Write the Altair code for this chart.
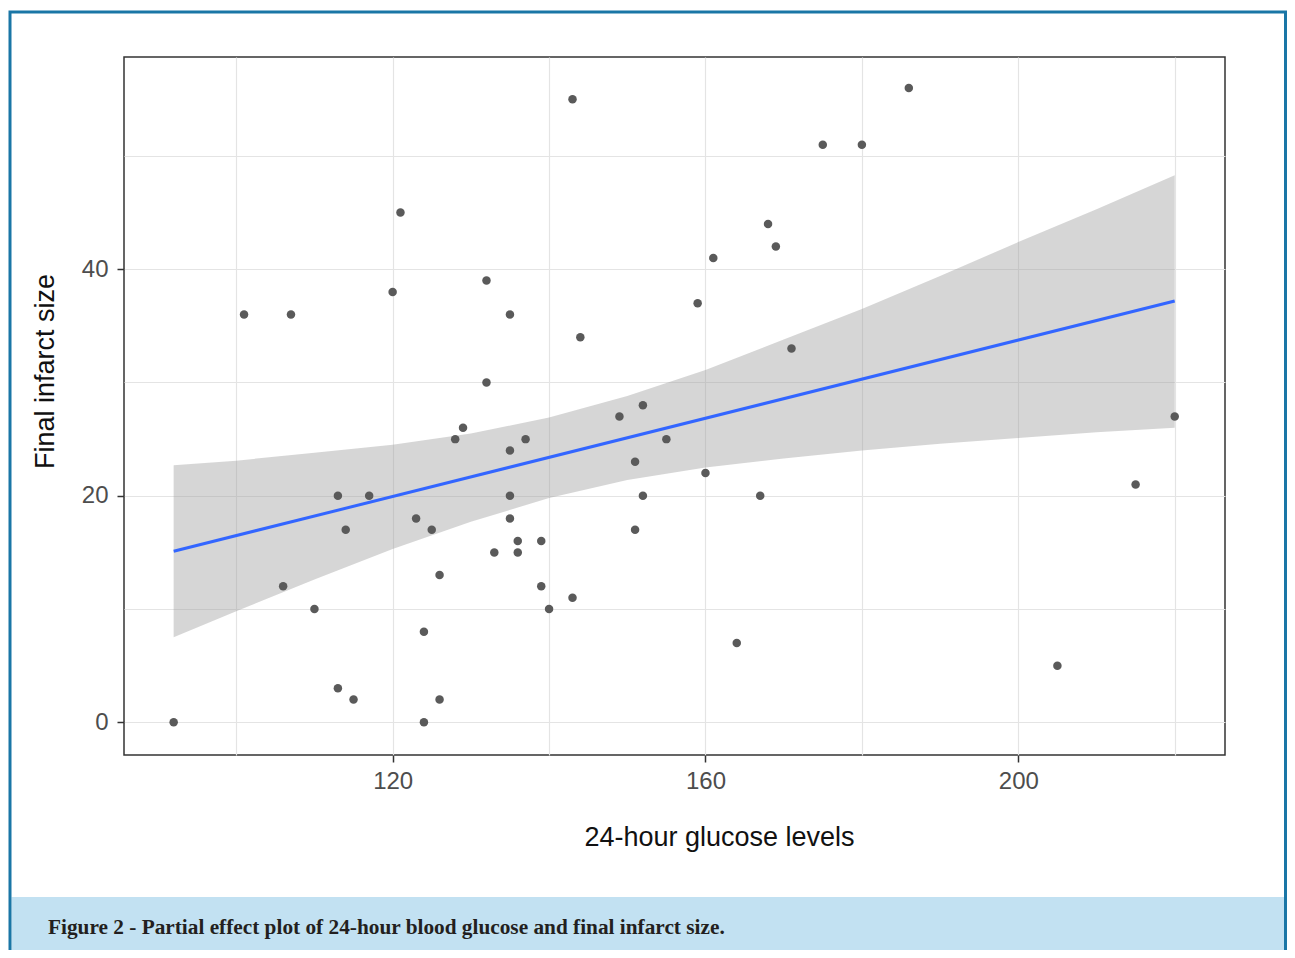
import altair as alt
import pandas as pd

# ---- data ----
glucose = [92, 101, 107, 106, 110, 113, 114, 117, 113, 115,
           120, 121, 123, 125, 126, 124, 124, 126, 128, 129,
           132, 132, 133, 135, 135, 135, 135, 136, 136, 137,
           139, 139, 140, 143, 143, 144, 149, 151, 151, 152,
           152, 155, 159, 160, 161, 164, 167, 168, 169, 171,
           175, 180, 186, 205, 215, 220]
infarct = [0, 36, 36, 12, 10, 20, 17, 20, 3, 2,
           38, 45, 18, 17, 13, 8, 0, 2, 25, 26,
           39, 30, 15, 36, 24, 20, 18, 16, 15, 25,
           16, 12, 10, 55, 11, 34, 27, 23, 17, 28,
           20, 25, 37, 22, 41, 7, 20, 44, 42, 33,
           51, 51, 56, 5, 21, 27]

fit_x = [92, 220]
fit_y = [15.1, 37.2]

band_x = [92, 100, 110, 120, 130, 140, 150, 160, 170, 180, 190, 200, 210, 220]
band_lo = [7.5, 9.8, 12.6, 15.3, 17.7, 19.8, 21.4, 22.5, 23.3, 24.0, 24.6, 25.1, 25.6, 26.0]
band_hi = [22.7, 23.1, 23.8, 24.5, 25.5, 26.9, 28.8, 31.1, 33.8, 36.5, 39.4, 42.4, 45.3, 48.3]

x_grid = [100, 120, 140, 160, 180, 200, 220]
y_grid = [0, 10, 20, 30, 40, 50]

x_title = "24-hour glucose levels"
y_title = "Final infarct size"
caption = "Figure 2 - Partial effect plot of 24-hour blood glucose and final infarct size."

pts = pd.DataFrame({"g": glucose, "s": infarct})
fit = pd.DataFrame({"g": fit_x, "s": fit_y})
band = pd.DataFrame({"g": band_x, "lo": band_lo, "hi": band_hi})
one = pd.DataFrame({"k": [0]})

xs = alt.Scale(domain=[85.65, 226.43], nice=False, zero=False)
ys = alt.Scale(domain=[-2.89, 58.74], nice=False, zero=False)

font = "Liberation Sans"
x_axis = alt.Axis(
    values=x_grid,
    labelExpr="datum.value % 40 == 0 ? datum.label : ''",
    tickColor={"condition": {"test": "datum.value % 40 == 0", "value": "#333333"},
               "value": "rgba(0,0,0,0)"},
    tickSize=7, tickWidth=1.5, domain=False,
    grid=True, gridColor="#e4e4e4", gridWidth=1.2,
    labelFont=font, labelFontSize=24, labelColor="#4d4d4d",
    labelPadding=26, labelBaseline="alphabetic",
    title=x_title, titleFont=font, titleFontSize=27, titleFontWeight="normal",
    titleColor="#111111", titleX=595, titleY=90, titleAlign="center",
    titleBaseline="alphabetic", titleAnchor="start",
)
y_axis = alt.Axis(
    values=y_grid,
    labelExpr="datum.value % 20 == 0 ? datum.label : ''",
    tickColor={"condition": {"test": "datum.value % 20 == 0", "value": "#333333"},
               "value": "rgba(0,0,0,0)"},
    tickSize=7, tickWidth=1.5, domain=False,
    grid=True, gridColor="#e4e4e4", gridWidth=1.2,
    labelFont=font, labelFontSize=24, labelColor="#4d4d4d", labelPadding=9,
    title=y_title, titleFont=font, titleFontSize=27, titleFontWeight="normal",
    titleColor="#111111", titleX=-71, titleY=314, titleAngle=-90,
    titleAlign="center", titleBaseline="alphabetic", titleAnchor="start",
)

band_layer = alt.Chart(band).mark_area(color="#999999", opacity=0.4).encode(
    x=alt.X("g:Q", scale=xs, axis=x_axis),
    y=alt.Y("lo:Q", scale=ys, axis=y_axis),
    y2="hi:Q",
)
pt_layer = alt.Chart(pts).mark_circle(size=72, color="#5a5a5a", opacity=1).encode(
    x=alt.X("g:Q", scale=xs), y=alt.Y("s:Q", scale=ys)
)
line_layer = alt.Chart(fit).mark_line(color="#3366ff", strokeWidth=3).encode(
    x=alt.X("g:Q", scale=xs), y=alt.Y("s:Q", scale=ys)
)

cap_box = alt.Chart(one).mark_rect(color="#c2e1f2").encode(
    x=alt.value(-112.5), x2=alt.value(1160), y=alt.value(840), y2=alt.value(900)
)
frame = alt.Chart(one).mark_rect(fill=None, stroke="#1a76a6", strokeWidth=3).encode(
    x=alt.value(-114), x2=alt.value(1161.5), y=alt.value(-45), y2=alt.value(910)
)
cap_text = alt.Chart(one).mark_text(
    text=caption, font="Liberation Serif", fontWeight="bold", fontSize=21.3,
    color="#231f20", align="left", baseline="alphabetic"
).encode(x=alt.value(-76), y=alt.value(877))

chart = alt.layer(band_layer, pt_layer, line_layer, cap_box, frame, cap_text).properties(
    width=1101, height=698,
    autosize=alt.AutoSizeParams(type="none"),
    padding={"left": 116, "top": 49, "right": 62, "bottom": 195},
    background="white",
).configure_view(stroke="#333333", strokeWidth=1.5)

chart.save("out.html", embed_options={"renderer": "svg", "actions": False})
